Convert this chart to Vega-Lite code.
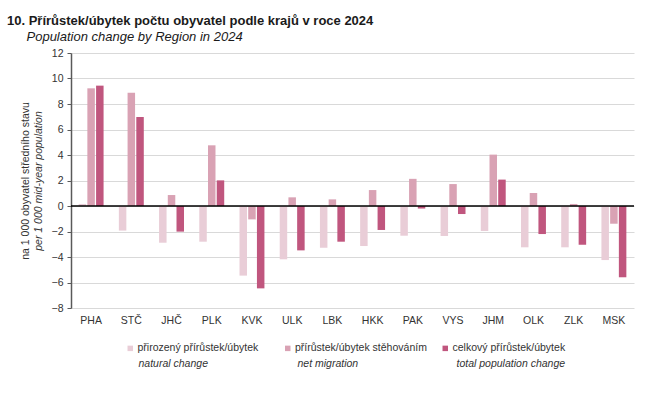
{
  "$schema": "https://vega.github.io/schema/vega-lite/v6.json",
  "width": 563,
  "height": 255,
  "autosize": {"type": "none"},
  "padding": {"left": 71, "top": 53, "right": 18, "bottom": 85},
  "title": {
    "text": "10. Přírůstek/úbytek počtu obyvatel podle krajů v roce 2024",
    "subtitle": "\u200b\u2002\u2002\u2002Population change by Region in 2024",
    "anchor": "start",
    "frame": "group",
    "dx": -64,
    "offset": 4,
    "fontSize": 13,
    "fontWeight": "bold",
    "subtitleFontSize": 13,
    "subtitleFontStyle": "italic",
    "subtitlePadding": 3,
    "color": "#1a1a1a",
    "subtitleColor": "#1a1a1a"
  },
  "data": {"values": [
    {"kraj": "PHA", "cz": "přirozený přírůstek/úbytek", "en": "natural change", "v": 0.16},
    {"kraj": "PHA", "cz": "přírůstek/úbytek stěhováním", "en": "net migration", "v": 9.23},
    {"kraj": "PHA", "cz": "celkový přírůstek/úbytek", "en": "total population change", "v": 9.44},
    {"kraj": "STČ", "cz": "přirozený přírůstek/úbytek", "en": "natural change", "v": -1.93},
    {"kraj": "STČ", "cz": "přírůstek/úbytek stěhováním", "en": "net migration", "v": 8.89},
    {"kraj": "STČ", "cz": "celkový přírůstek/úbytek", "en": "total population change", "v": 6.98},
    {"kraj": "JHČ", "cz": "přirozený přírůstek/úbytek", "en": "natural change", "v": -2.88},
    {"kraj": "JHČ", "cz": "přírůstek/úbytek stěhováním", "en": "net migration", "v": 0.86},
    {"kraj": "JHČ", "cz": "celkový přírůstek/úbytek", "en": "total population change", "v": -2.01},
    {"kraj": "PLK", "cz": "přirozený přírůstek/úbytek", "en": "natural change", "v": -2.8},
    {"kraj": "PLK", "cz": "přírůstek/úbytek stěhováním", "en": "net migration", "v": 4.76},
    {"kraj": "PLK", "cz": "celkový přírůstek/úbytek", "en": "total population change", "v": 2.01},
    {"kraj": "KVK", "cz": "přirozený přírůstek/úbytek", "en": "natural change", "v": -5.46},
    {"kraj": "KVK", "cz": "přírůstek/úbytek stěhováním", "en": "net migration", "v": -1.05},
    {"kraj": "KVK", "cz": "celkový přírůstek/úbytek", "en": "total population change", "v": -6.46},
    {"kraj": "ULK", "cz": "přirozený přírůstek/úbytek", "en": "natural change", "v": -4.18},
    {"kraj": "ULK", "cz": "přírůstek/úbytek stěhováním", "en": "net migration", "v": 0.68},
    {"kraj": "ULK", "cz": "celkový přírůstek/úbytek", "en": "total population change", "v": -3.48},
    {"kraj": "LBK", "cz": "přirozený přírůstek/úbytek", "en": "natural change", "v": -3.27},
    {"kraj": "LBK", "cz": "přírůstek/úbytek stěhováním", "en": "net migration", "v": 0.52},
    {"kraj": "LBK", "cz": "celkový přírůstek/úbytek", "en": "total population change", "v": -2.8},
    {"kraj": "HKK", "cz": "přirozený přírůstek/úbytek", "en": "natural change", "v": -3.14},
    {"kraj": "HKK", "cz": "přírůstek/úbytek stěhováním", "en": "net migration", "v": 1.25},
    {"kraj": "HKK", "cz": "celkový přírůstek/úbytek", "en": "total population change", "v": -1.88},
    {"kraj": "PAK", "cz": "přirozený přírůstek/úbytek", "en": "natural change", "v": -2.33},
    {"kraj": "PAK", "cz": "přírůstek/úbytek stěhováním", "en": "net migration", "v": 2.13},
    {"kraj": "PAK", "cz": "celkový přírůstek/úbytek", "en": "total population change", "v": -0.2},
    {"kraj": "VYS", "cz": "přirozený přírůstek/úbytek", "en": "natural change", "v": -2.35},
    {"kraj": "VYS", "cz": "přírůstek/úbytek stěhováním", "en": "net migration", "v": 1.72},
    {"kraj": "VYS", "cz": "celkový přírůstek/úbytek", "en": "total population change", "v": -0.63},
    {"kraj": "JHM", "cz": "přirozený přírůstek/úbytek", "en": "natural change", "v": -1.96},
    {"kraj": "JHM", "cz": "přírůstek/úbytek stěhováním", "en": "net migration", "v": 4.03},
    {"kraj": "JHM", "cz": "celkový přírůstek/úbytek", "en": "total population change", "v": 2.07},
    {"kraj": "OLK", "cz": "přirozený přírůstek/úbytek", "en": "natural change", "v": -3.24},
    {"kraj": "OLK", "cz": "přírůstek/úbytek stěhováním", "en": "net migration", "v": 1.02},
    {"kraj": "OLK", "cz": "celkový přírůstek/úbytek", "en": "total population change", "v": -2.2},
    {"kraj": "ZLK", "cz": "přirozený přírůstek/úbytek", "en": "natural change", "v": -3.24},
    {"kraj": "ZLK", "cz": "přírůstek/úbytek stěhováním", "en": "net migration", "v": 0.16},
    {"kraj": "ZLK", "cz": "celkový přírůstek/úbytek", "en": "total population change", "v": -3.03},
    {"kraj": "MSK", "cz": "přirozený přírůstek/úbytek", "en": "natural change", "v": -4.24},
    {"kraj": "MSK", "cz": "přírůstek/úbytek stěhováním", "en": "net migration", "v": -1.39},
    {"kraj": "MSK", "cz": "celkový přírůstek/úbytek", "en": "total population change", "v": -5.59}
  ]},
  "layer": [
    {
      "mark": {"type": "bar"},
      "encoding": {
        "x": {
          "field": "kraj", "type": "nominal",
          "sort": ["PHA", "STČ", "JHČ", "PLK", "KVK", "ULK", "LBK", "HKK", "PAK", "VYS", "JHM", "OLK", "ZLK", "MSK"],
          "scale": {"paddingInner": 0.38, "paddingOuter": 0.19},
          "axis": {"title": null, "ticks": false, "domain": false, "grid": false, "labelAngle": 0, "labelPadding": 7}
        },
        "xOffset": {
          "field": "cz", "type": "nominal",
          "scale": {"domain": ["přirozený přírůstek/úbytek", "přírůstek/úbytek stěhováním", "celkový přírůstek/úbytek"], "paddingInner": 0.14, "paddingOuter": 0}
        },
        "y": {
          "field": "v", "type": "quantitative",
          "scale": {"domain": [-8, 12], "nice": false, "zero": false},
          "axis": {
            "title": "per 1 000 mid-year population",
            "titleFontStyle": "italic",
            "values": [-8, -6, -4, -2, 0, 2, 4, 6, 8, 10, 12],
            "grid": true, "gridColor": "#d9d9d9", "gridWidth": 1,
            "domainColor": "#595959", "domainWidth": 1.5,
            "tickColor": "#595959", "tickSize": 4, "tickWidth": 1,
            "labelPadding": 4, "titlePadding": 8
          }
        },
        "color": {
          "field": "cz", "type": "nominal",
          "scale": {"domain": ["přirozený přírůstek/úbytek", "přírůstek/úbytek stěhováním", "celkový přírůstek/úbytek"], "range": ["#e9cdd7", "#d9a2b4", "#c0567e"]},
          "legend": {"orient": "none", "legendX": 54, "legendY": 290, "columnPadding": 12.5}
        }
      }
    },
    {
      "data": {"values": [{}]},
      "mark": {"type": "rule", "color": "#000000", "strokeWidth": 1.5},
      "encoding": {"y": {"datum": 0, "type": "quantitative", "axis": null}}
    },
    {
      "mark": {"type": "point", "opacity": 0},
      "encoding": {
        "y": {
          "field": "v", "type": "quantitative",
          "axis": {"orient": "left", "title": "na 1 000 obyvatel středního stavu", "labels": false, "ticks": false, "domain": false, "grid": false, "titlePadding": 41}
        },
        "shape": {
          "field": "en", "type": "nominal",
          "scale": {"domain": ["natural change", "net migration", "total population change"], "range": ["square", "square", "square"]},
          "legend": {"orient": "none", "legendX": 55, "legendY": 306, "columnPadding": 37, "labelFontStyle": "italic", "symbolOpacity": 0, "symbolFillColor": "#ffffff", "symbolStrokeColor": "#ffffff"}
        }
      }
    }
  ],
  "resolve": {"axis": {"y": "independent"}},
  "config": {
    "font": "Liberation Sans",
    "view": {"stroke": null},
    "axis": {"labelFontSize": 10.5, "titleFontSize": 10.5, "labelColor": "#333333", "titleColor": "#333333", "titleFontWeight": "normal", "labelFont": "Liberation Sans", "titleFont": "Liberation Sans"},
    "legend": {"title": null, "direction": "horizontal", "columns": 3, "gridAlign": "all", "padding": 0, "labelFontSize": 10.5, "labelColor": "#333333", "labelFont": "Liberation Sans", "symbolType": "square", "symbolSize": 30, "symbolStrokeWidth": 0, "labelOffset": 2, "rowPadding": 0, "labelLimit": 300}
  }
}
